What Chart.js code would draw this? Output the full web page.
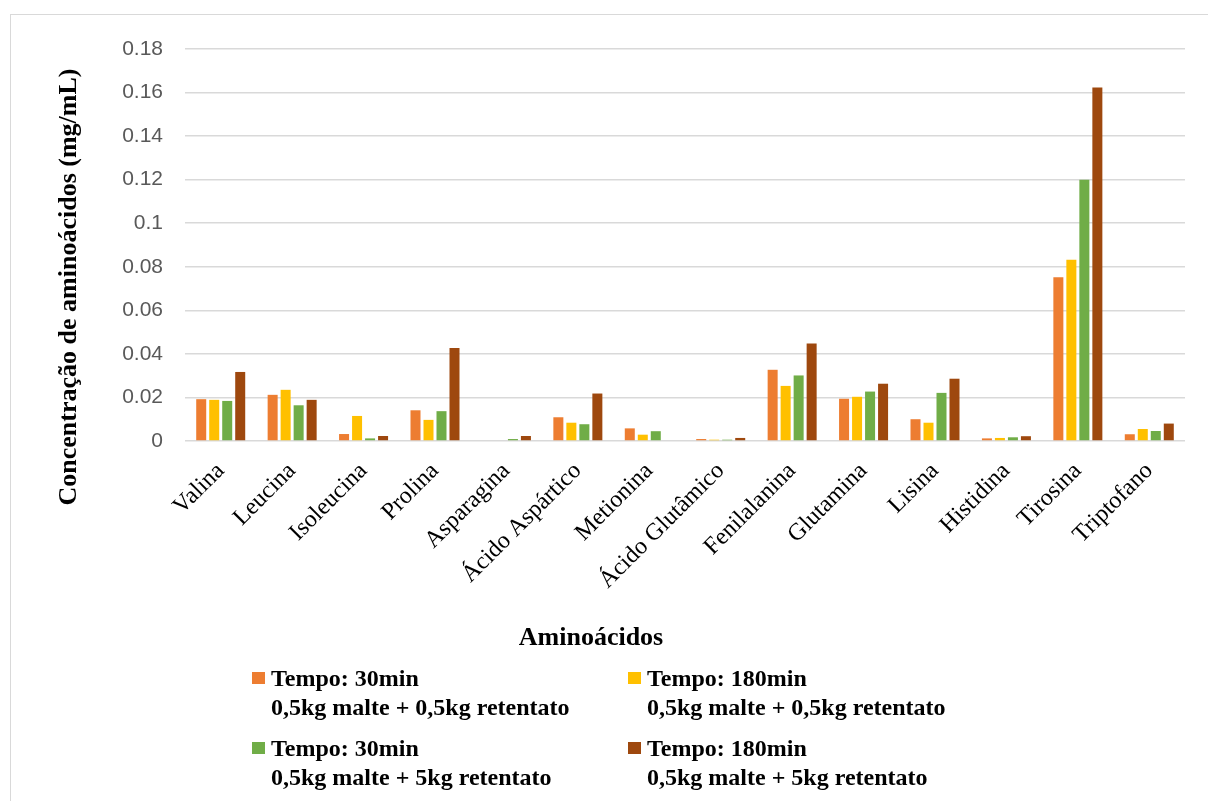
<!DOCTYPE html>
<html>
<head>
<meta charset="utf-8">
<script src="https://cdn.jsdelivr.net/npm/chart.js@4/dist/chart.umd.min.js"></script>
<style>
  html, body { margin: 0; padding: 0; background: #fff; }
  body { width: 1208px; height: 801px; overflow: hidden; position: relative; }
  .frame { position: absolute; left: 10px; top: 14px; width: 1300px; height: 900px; border: 1px solid #d9d9d9; box-sizing: border-box; }
  #chart { position: absolute; left: 0; top: 0; }
  .legend-item { position: absolute; font: bold 24px "Liberation Serif", "Times New Roman", serif; line-height: 29px; color: #000; white-space: nowrap; }
  .legend-item .swatch { position: absolute; left: -19px; top: 8px; width: 13px; height: 12px; }
</style>
</head>
<body>
<div class="frame"></div>
<canvas id="chart" width="1208" height="801"></canvas>
<div id="legend"></div>
<script>
const categories = ['Valina', 'Leucina', 'Isoleucina', 'Prolina', 'Asparagina', 'Ácido Aspártico',
    'Metionina', 'Ácido Glutâmico', 'Fenilalanina', 'Glutamina', 'Lisina', 'Histidina', 'Tirosina', 'Triptofano'];

const t30Low  = [0.0192, 0.0212, 0.0032, 0.0141, 0, 0.0109, 0.0058, 0.0009, 0.0327, 0.0194, 0.0100, 0.0012, 0.0752, 0.0031];
const t180Low = [0.0189, 0.0235, 0.0115, 0.0097, 0, 0.0084, 0.0029, 0.0006, 0.0253, 0.0203, 0.0084, 0.0014, 0.0832, 0.0055];
const t30High = [0.0184, 0.0164, 0.0012, 0.0137, 0.0009, 0.0077, 0.0045, 0.0006, 0.0301, 0.0227, 0.0221, 0.0017, 0.1200, 0.0046];
const t180High = [0.0317, 0.0189, 0.0023, 0.0427, 0.0023, 0.0218, 0, 0.0014, 0.0448, 0.0263, 0.0286, 0.0022, 0.1623, 0.0080];

const seriesLabels = [
    ['Tempo: 30min', '0,5kg malte + 0,5kg retentato'],
    ['Tempo: 180min', '0,5kg malte + 0,5kg retentato'],
    ['Tempo: 30min', '0,5kg malte + 5kg retentato'],
    ['Tempo: 180min', '0,5kg malte + 5kg retentato']
];
const seriesColors = ['#ED7D31', '#FFC000', '#70AD47', '#9E480E'];

const yMin = 0, yMax = 0.18, yStep = 0.02;
const yTitle = 'Concentração de aminoácidos (mg/mL)';
const xTitle = 'Aminoácidos';

const seriesValues = [t30Low, t180Low, t30High, t180High];

// axis titles drawn by hand so they sit where the original had them
const axisTitles = {
    id: 'axisTitles',
    afterDraw(chart) {
        const ctx = chart.ctx;
        ctx.save();
        ctx.fillStyle = '#000';
        ctx.font = 'bold 26px "Liberation Serif", "Times New Roman", serif';
        ctx.textAlign = 'center';
        ctx.textBaseline = 'alphabetic';
        ctx.fillText(xTitle, 591, 645);
        ctx.translate(76, 287);
        ctx.rotate(-Math.PI / 2);
        ctx.fillText(yTitle, 0, 0);
        ctx.restore();
    }
};

new Chart(document.getElementById('chart'), {
    type: 'bar',
    data: {
        labels: categories,
        datasets: seriesValues.map((values, i) => ({
            label: seriesLabels[i].join(' '),
            data: values,
            backgroundColor: seriesColors[i],
            borderWidth: 0,
            categoryPercentage: 0.728,
            barPercentage: 0.77
        }))
    },
    options: {
        responsive: false,
        animation: false,
        layout: { padding: { top: 49, right: 23, bottom: 200, left: 0 } },
        plugins: {
            legend: { display: false },
            tooltip: { enabled: false }
        },
        scales: {
            x: {
                grid: { display: false },
                border: { display: false },
                afterFit: (scale) => { scale.height = 160; },
                ticks: {
                    autoSkip: false,
                    minRotation: 45,
                    maxRotation: 45,
                    padding: 8,
                    color: '#000',
                    font: { family: '"Liberation Serif", "Times New Roman", serif', size: 24 }
                }
            },
            y: {
                min: yMin,
                max: yMax,
                border: { display: false },
                grid: { color: '#d9d9d9', lineWidth: 1.5, drawTicks: false },
                afterFit: (scale) => { scale.width = 185; },
                ticks: {
                    stepSize: yStep,
                    padding: 22,
                    color: '#595959',
                    font: { family: '"Liberation Sans", Arial, sans-serif', size: 21 },
                    callback: (v) => String(Number(v.toFixed(2)))
                }
            }
        }
    },
    plugins: [axisTitles]
});

const legendPos = [[271, 664], [647, 664], [271, 734], [647, 734]];
const legendEl = document.getElementById('legend');
seriesLabels.forEach((lines, i) => {
    const item = document.createElement('div');
    item.className = 'legend-item';
    item.style.left = legendPos[i][0] + 'px';
    item.style.top = legendPos[i][1] + 'px';
    const sw = document.createElement('span');
    sw.className = 'swatch';
    sw.style.background = seriesColors[i];
    item.appendChild(sw);
    lines.forEach(line => {
        const d = document.createElement('div');
        d.textContent = line;
        item.appendChild(d);
    });
    legendEl.appendChild(item);
});
</script>
</body>
</html>
